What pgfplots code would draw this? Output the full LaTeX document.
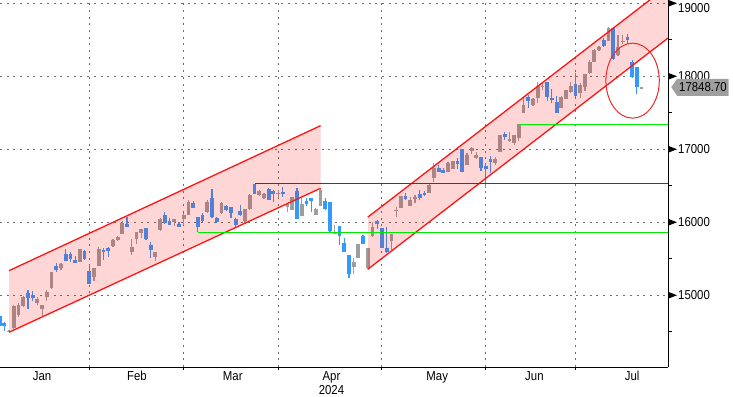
\documentclass[border=0pt]{standalone}
\usepackage{pgfplots}
\pgfplotsset{compat=1.18}
\usepackage{pgfplotstable}
\usepackage{fontspec}
\setmainfont{Liberation Sans}[FakeStretch=0.88]
\usetikzlibrary{shapes.symbols}

\definecolor{upc}{RGB}{158,158,158}
\definecolor{dnc}{RGB}{51,153,255}
\definecolor{gridc}{RGB}{110,110,110}
\definecolor{chred}{RGB}{255,20,20}
\definecolor{hlred}{RGB}{220,0,0}
\definecolor{hlgreen}{RGB}{0,235,0}
\definecolor{ellc}{RGB}{235,40,40}
\newcommand\lblfont{\fontsize{13}{14.3}\selectfont}

\pgfdeclareplotmark{rtri}{%
  \pgfpathmoveto{\pgfpoint{0pt}{3.5bp}}%
  \pgfpathlineto{\pgfpoint{9bp}{0pt}}%
  \pgfpathlineto{\pgfpoint{0pt}{-3.5bp}}%
  \pgfpathclose\pgfusepathqfill}

\pgfplotstableread{
x o h l c
4 14502 14530 14495 14515
5 14547 14862 14533 14853
6 14730 14889 14707 14867
7 14853 14990 14844 14972
10 14889 14972 14867 14949
11 14812 14867 14707 14867
12 14981 15072 14926 15049
13 15104 15323 15081 15319
15 15378 15447 15346 15424
19 15456 15634 15456 15634
22 15255 15369 15200 15369
23 15406 15666 15401 15629
26 15675 15771 15657 15757
27 15757 15812 15748 15798
28 15844 16017 15844 15985
30 15597 15766 15552 15661
31 15766 15867 15702 15867
32 15858 15912 15780 15912
35 15529 15588 15469 15588
36 15894 16063 15885 16045
39 16008 16045 15949 16045
41 16045 16132 15963 16100
42 16100 16305 16100 16282
46 16145 16305 16132 16282
49 16122 16282 16113 16260
54 16017 16177 15985 16177
55 16182 16388 16168 16374
57 16374 16442 16360 16428
58 16328 16397 16314 16387
61 16388 16442 16328 16406
63 16205 16250 16145 16250
64 16168 16351 16168 16342
66 16090 16328 16090 16250
69 16100 16200 16100 16182
70 16228 16465 16228 16442
73 15845 15963 15839 15850
77 15392 15506 15291 15460
78 15515 15703 15506 15703
80 15369 15643 15360 15643
81 15817 16008 15803 15940
85 15748 15835 15620 15835
86 16159 16205 16077 16168
87 16200 16360 16200 16360
89 16228 16342 16228 16305
90 16319 16374 16260 16342
93 16397 16524 16397 16511
94 16602 16808 16556 16748
97 16693 16830 16693 16808
98 16730 16840 16730 16840
101 16785 16945 16785 16922
102 16981 17036 16931 17022
103 16876 16968 16867 16922
107 16817 16899 16785 16867
108 16967 17196 16967 17196
110 17114 17232 17105 17141
111 17082 17196 17059 17196
112 17150 17342 17118 17342
113 17502 17721 17502 17607
115 17607 17698 17598 17689
116 17698 17926 17639 17867
117 17860 17926 17812 17867
121 17561 17730 17561 17712
122 17689 17812 17689 17812
123 17780 17926 17767 17867
125 17767 17904 17700 17881
126 17850 18031 17803 18025
127 18040 18220 18030 18200
128 18200 18370 18190 18360
129 18360 18420 18350 18406
131 18488 18680 18480 18657
133 18292 18566 18280 18406
134 18480 18566 18440 18485
138 17840 17858 17835 17849
}\uptab

\pgfplotstableread{
x o h l c
2 14710 14720 14570 14580
3 14615 14640 14515 14579
8 15027 15072 14816 14958
9 15004 15058 14921 14967
14 15401 15438 15323 15346
16 15565 15629 15469 15469
17 15565 15597 15460 15501
18 15483 15538 15447 15447
20 15606 15620 15483 15492
21 15333 15415 15159 15159
24 15616 15643 15483 15588
25 15643 15666 15529 15611
29 15981 16077 15931 15940
33 15922 15922 15757 15775
34 15689 15734 15515 15620
37 16100 16141 15976 15995
38 16022 16063 15967 15967
40 15976 16008 15940 15940
43 16269 16296 16200 16200
44 16077 16077 15862 15940
45 16100 16123 16008 16022
47 16328 16456 16063 16077
48 16063 16077 15985 16008
50 16223 16237 16159 16168
51 16205 16214 16054 16122
52 16045 16063 15940 15963
53 16159 16237 16086 16100
56 16524 16524 16387 16387
59 16456 16465 16305 16305
60 16433 16442 16282 16387
62 16410 16488 16342 16401
65 16428 16465 16045 16045
67 16296 16328 16228 16250
68 16337 16337 16145 16291
71 16291 16328 16168 16177
72 16273 16273 15862 15880
74 15954 15954 15689 15812
75 15711 15780 15597 15597
76 15552 15552 15232 15287
79 15812 15826 15703 15703
82 16017 16031 15903 15976
83 15917 15926 15643 15652
84 15652 15940 15584 15597
88 16360 16397 16305 16319
91 16388 16442 16305 16328
92 16406 16429 16360 16374
95 16739 16785 16693 16693
96 16716 16739 16670 16680
99 16844 16876 16725 16798
100 17000 17000 16693 16693
104 16890 16899 16707 16739
105 16771 16808 16465 16734
106 16867 16908 16670 16830
109 17210 17242 17127 17173
114 17721 17744 17561 17666
118 17926 17926 17662 17721
119 17695 17821 17630 17689
120 17652 17730 17493 17493
124 17894 18041 17721 17735
130 18497 18520 18400 18415
132 18657 18670 18220 18232
135 18543 18580 18442 18497
136 18200 18223 17972 17995
137 18132 18132 17757 17858
}\dntab

\begin{document}
\begin{tikzpicture}
\useasboundingbox (0,-30bp) rectangle (733bp,367bp);
\begin{axis}[
  at={(0,0)}, anchor=south west,
  scale only axis, width=668bp, height=367bp,
  xmin=2.08, xmax=143.6, ymin=14017, ymax=19045,
  axis x line*=bottom, axis y line*=right,
  axis line style={black, line width=1bp},
  tick align=outside,
  major tick length=0pt, minor tick length=4bp,
  tick style={black, line width=1bp},
  xtick={11,31.1,51.4,72.3,94.7,115.3,136},
  xticklabels={Jan,Feb,Mar,{Apr\\2024},May,Jun,Jul},
  xticklabel style={align=center, inner sep=0pt, yshift=-4bp, font=\lblfont},
  extra x ticks={21,41,61,83,105,124},
  extra x tick labels={},
  extra x tick style={major tick length=3bp, grid=major},
  scaled y ticks=false,
  ytick={15000,16000,17000,18000},
  extra y ticks={19000},
  extra y tick style={grid=major, yticklabel style={yshift=-4.4bp}},
  minor ytick={14500,15500,16500,17500,18500},
  ymajorgrids,
  grid style={gridc, line width=1bp, dash pattern=on 2bp off 4.7bp},
  yticklabel style={anchor=west, inner sep=0pt, xshift=10bp, font=\lblfont},
  /pgf/number format/1000 sep={},
  /pgf/number format/assume math mode=true,
]
% wicks
\addplot[draw=none, mark=none, error bars/.cd, y dir=both, y explicit, error mark=none,
  error bar style={draw=upc, line width=1.2bp}]
  table[x=x, y expr={(\thisrow{h}+\thisrow{l})/2}, y error expr={(\thisrow{h}-\thisrow{l})/2}]{\uptab};
\addplot[draw=none, mark=none, error bars/.cd, y dir=both, y explicit, error mark=none,
  error bar style={draw=dnc, line width=1.2bp}]
  table[x=x, y expr={(\thisrow{h}+\thisrow{l})/2}, y error expr={(\thisrow{h}-\thisrow{l})/2}]{\dntab};
% bodies
\addplot[draw=none, mark=none, error bars/.cd, y dir=both, y explicit, error mark=none,
  error bar style={draw=upc, line width=3.8bp}]
  table[x=x, y expr={(\thisrow{o}+\thisrow{c})/2}, y error expr={max(abs(\thisrow{c}-\thisrow{o})/2,7)}]{\uptab};
\addplot[draw=none, mark=none, error bars/.cd, y dir=both, y explicit, error mark=none,
  error bar style={draw=dnc, line width=3.8bp}]
  table[x=x, y expr={(\thisrow{o}+\thisrow{c})/2}, y error expr={max(abs(\thisrow{c}-\thisrow{o})/2,7)}]{\dntab};
% channels
\addplot[draw=none, fill=red, fill opacity=0.16] coordinates {(4,14493) (70,16466) (70,17323) (4,15337) (4,14493)};
\addplot[chred, line width=1.3bp] coordinates {(4,15337) (70,17323)};
\addplot[chred, line width=1.3bp] coordinates {(4,14493) (70,16466)};
\addplot[draw=none, fill=red, fill opacity=0.16] coordinates {(80,15356) (150,18842) (150,19556) (80,16070) (80,15356)};
\addplot[chred, line width=1.3bp] coordinates {(80,16070) (150,19556)};
\addplot[chred, line width=1.3bp] coordinates {(80,15356) (150,18842)};
% horizontal levels
\addplot[hlred, line width=1bp] coordinates {(56,16534) (150,16534)};
\addplot[hlgreen, line width=1.3bp] coordinates {(44,15863) (150,15863)};
\addplot[hlgreen, line width=1.3bp] coordinates {(112,17342) (150,17342)};
% circle
\draw[ellc, line width=1bp] (axis cs:136.1,17940) ellipse [x radius=26.7bp, y radius=37.5bp];
% tick arrows
\addplot[only marks, mark=rtri, mark options={black, fill=black}] coordinates {(143.6,15000) (143.6,16000) (143.6,17000) (143.6,18000) (143.6,19000)};
\coordinate (lp) at (axis cs:143.6,17848.7);
\end{axis}
\node[signal, signal to=west, signal pointer angle=110, fill=gray!75, minimum height=17bp,
  inner xsep=2bp, inner ysep=1bp, anchor=west, font=\lblfont] at ([xshift=3bp]lp) {17848.70};
\end{tikzpicture}
\end{document}
